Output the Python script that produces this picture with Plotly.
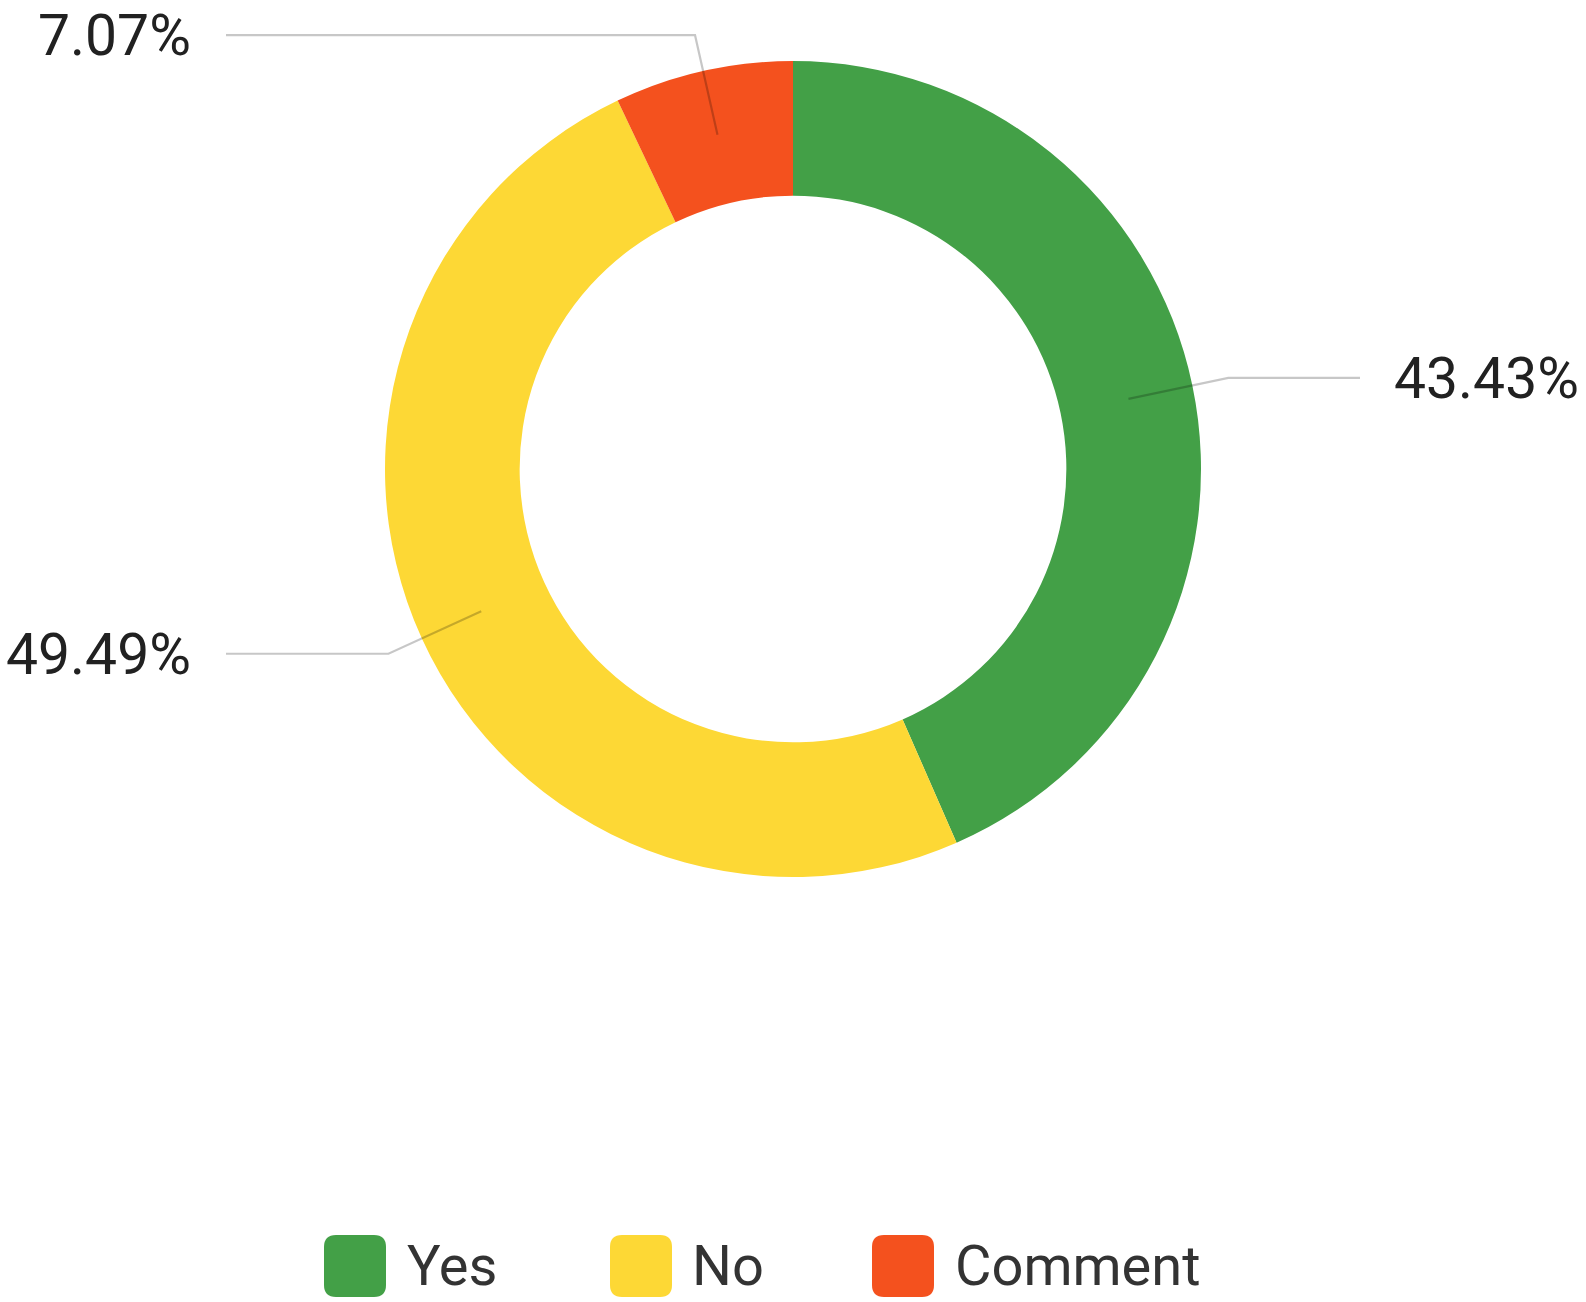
import math
import plotly.graph_objects as go

# ---- data ----
categories = ["Yes", "No", "Comment"]
values = [43.43, 49.49, 7.07]
colors = ["#43A047", "#FDD835", "#F4511E"]

# ---- geometry (pixels) ----
W, H = 1586, 1302
CX, CY = 793, 469
R = 408
HOLE = 0.67
FONT = "Roboto, Arial, sans-serif"
TXT = "#212121"


def px(x):
    return x / W


def py(y):
    return 1 - y / H


fig = go.Figure()
fig.add_trace(go.Pie(
    labels=categories,
    values=values,
    marker=dict(colors=colors, line=dict(width=0)),
    hole=HOLE,
    sort=False,
    direction="clockwise",
    rotation=0,
    textinfo="none",
    hoverinfo="label+percent",
    showlegend=False,
    domain=dict(x=[px(CX - R), px(CX + R)], y=[py(CY + R), py(CY - R)]),
))

shapes = []
annotations = []
total = sum(values)
cum = 0.0
for cat, v in zip(categories, values):
    mid = (cum + v / 2) / total * 2 * math.pi
    cum += v
    s, c = math.sin(mid), math.cos(mid)
    r1, r2 = 0.84 * R, 1.09 * R
    x1, y1 = CX + r1 * s, CY - r1 * c
    x2, y2 = CX + r2 * s, CY - r2 * c
    if s >= 0:
        x3 = CX + 567
        lx, anchor = 1393, "left"
    else:
        x3 = CX - 567
        lx, anchor = 192, "right"
    path = f"M {px(x1)},{py(y1)} L {px(x2)},{py(y2)} L {px(x3)},{py(y2)}"
    shapes.append(dict(type="path", path=path, xref="paper", yref="paper",
                       line=dict(color="rgba(0,0,0,0.22)", width=2.2)))
    annotations.append(dict(x=px(lx), y=py(y2), xref="paper", yref="paper",
                            text=f"{v:.2f}%", showarrow=False,
                            xanchor=anchor, yanchor="middle",
                            height=54, valign="middle", borderpad=0,
                            font=dict(family=FONT, size=57, color=TXT)))

# ---- custom legend ----
leg_sq_x = [324, 610, 872]
leg_txt_x = [406, 691, 954]
LEG_Y = 1266
SQ = 62
RAD = 12
for cat, col, sx, tx in zip(categories, colors, leg_sq_x, leg_txt_x):
    x0, x1 = sx, sx + SQ
    y0, y1 = LEG_Y - SQ / 2, LEG_Y + SQ / 2
    p = (f"M {px(x0 + RAD)},{py(y0)} L {px(x1 - RAD)},{py(y0)} "
         f"Q {px(x1)},{py(y0)} {px(x1)},{py(y0 + RAD)} "
         f"L {px(x1)},{py(y1 - RAD)} Q {px(x1)},{py(y1)} {px(x1 - RAD)},{py(y1)} "
         f"L {px(x0 + RAD)},{py(y1)} Q {px(x0)},{py(y1)} {px(x0)},{py(y1 - RAD)} "
         f"L {px(x0)},{py(y0 + RAD)} Q {px(x0)},{py(y0)} {px(x0 + RAD)},{py(y0)} Z")
    shapes.append(dict(type="path", path=p, xref="paper", yref="paper",
                       fillcolor=col, line=dict(width=0)))
    annotations.append(dict(x=px(tx), y=py(LEG_Y), xref="paper", yref="paper",
                            text=cat, showarrow=False, xanchor="left",
                            yanchor="middle", height=60, valign="middle",
                            borderpad=0,
                            font=dict(family=FONT, size=56, color="#333333")))

fig.update_layout(
    width=W, height=H,
    margin=dict(l=0, r=0, t=0, b=0),
    paper_bgcolor="white",
    plot_bgcolor="white",
    shapes=shapes,
    annotations=annotations,
)

fig.write_html("out.html", config={"displayModeBar": False},
               post_script="document.body.style.margin='0';")
